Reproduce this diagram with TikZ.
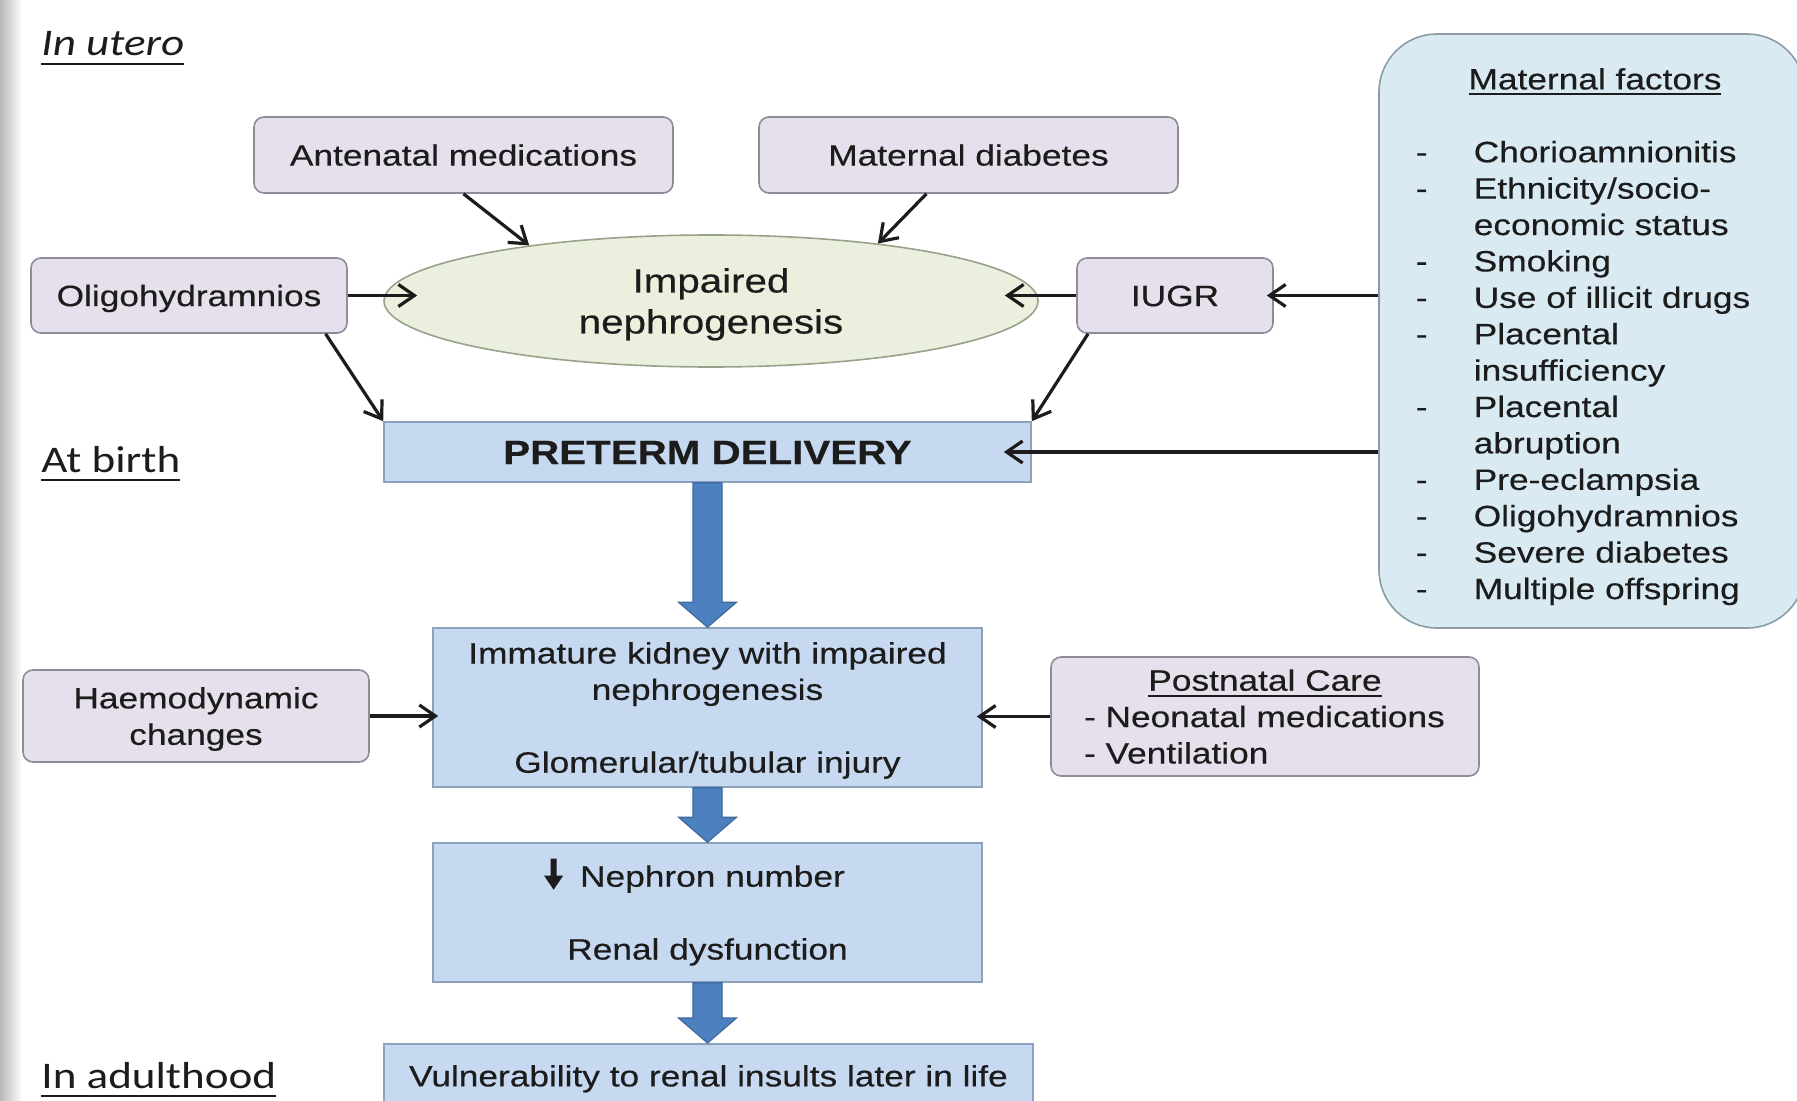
\documentclass[tikz,border=0pt]{standalone}
\usepackage{fontspec}
\setmainfont{Liberation Sans}[FakeStretch=1.2,FakeBold=0.4]
\newfontfamily\calib{Carlito}[FakeStretch=1.2]
\usetikzlibrary{arrows.meta,shapes.geometric,calc}
\definecolor{lav}{HTML}{E5E0EC}
\definecolor{lavb}{HTML}{8E8B9B}
\definecolor{ellf}{HTML}{EAF0DD}
\definecolor{ellb}{HTML}{98A28A}
\definecolor{bluef}{HTML}{C6D9F0}
\definecolor{blueb}{HTML}{8CA2BC}
\definecolor{mff}{HTML}{DAEAF2}
\definecolor{mfb}{HTML}{8C9CA6}
\definecolor{barr}{HTML}{4D80BE}
\definecolor{barrd}{HTML}{3B69A0}
\definecolor{txt}{HTML}{1C1C1C}
\newcommand\fsn{\fontsize{14.7pt}{18.2pt}\selectfont}
\newcommand\fsl{\fontsize{16.8pt}{20.5pt}\selectfont}
\newcommand\fsh{\fontsize{18.8pt}{22pt}\selectfont}
\newcommand\sth{\rule{0pt}{16pt}}
\newcommand\std{\rule[-5.4pt]{0pt}{5.4pt}}
\newcommand\lth{\rule{0pt}{18pt}}
\newcommand\ltd{\rule[-6pt]{0pt}{6pt}}
\newcommand\myul[3]{\setbox0\hbox{#3}\rlap{\vrule height -#1 depth \dimexpr #1+#2\relax width \wd0}\box0}
\newcommand\fatarrow[2]{\path let \p1=(#1.south), \p2=(#2.north) in [fat]
  (\x1-7.25pt,\y1) -- (\x1+7.25pt,\y1) -- (\x1+7.25pt,\y2+12.5pt) -- (\x1+14.5pt,\y2+12.5pt)
  -- (\x1,\y2) -- (\x1-14.5pt,\y2+12.5pt) -- (\x1-7.25pt,\y2+12.5pt) -- cycle;}
\begin{document}
\begin{tikzpicture}[x=0.5pt,y=-0.5pt,
  lbox/.style={draw=lavb, fill=lav, line width=0.8pt, rounded corners=5pt, align=center, inner sep=0pt, font=\fsn, text=txt},
  bbox/.style={draw=blueb, fill=bluef, line width=0.8pt, align=center, inner sep=0pt, font=\fsn, text=txt},
  arr/.style={line width=1.6pt, draw=txt, -{Straight Barb[length=8pt,width=11pt]}},
  fat/.style={fill=barr, draw=barrd, line width=0.6pt},
  lab/.style={anchor=base west, inner sep=0pt, font=\calib\fsh, text=txt}]
\useasboundingbox (0,0) rectangle (1797,1101);
\clip (0,0) rectangle (1797,1101);
\fill[white] (0,0) rectangle (1797,1101);
\shade[left color=black!28, right color=white] (0,0) rectangle (22,1101);

% labels
\node[lab] (lu) at (41,56) {\itshape\myul{3.3pt}{1.2pt}{In utero}};
\node[lab] (lb) at (41,472) {\myul{3.3pt}{1.2pt}{At birth}};
\node[lab] (la) at (41,1088) {\myul{3.3pt}{1.2pt}{In adulthood}};

% in utero
\node[lbox, minimum width=209.5pt, minimum height=38pt] (ant) at (463.5,155) {\sth\std Antenatal medications};
\node[lbox, minimum width=209.5pt, minimum height=38pt] (mdb) at (968.5,155) {\sth\std Maternal diabetes};
\node[lbox, minimum width=158pt, minimum height=37.5pt] (oli) at (189,295.5) {\sth\std Oligohydramnios};
\node[ellipse, draw=ellb, fill=ellf, line width=0.8pt, minimum width=327pt, minimum height=66pt, inner sep=0pt, align=center, font=\fsl, text=txt] (imp) at (711,301) {\lth Impaired\\nephrogenesis\ltd};
\node[lbox, minimum width=98pt, minimum height=37.5pt] (iugr) at (1175,295.5) {\sth\std IUGR};

\node[draw=mfb, fill=mff, line width=0.8pt, rounded corners=29pt, minimum width=213pt, minimum height=297pt, inner sep=0pt, font=\fsn, text=txt] (mf) at (1592,331) {%
\begin{tabular}{@{}p{29pt}@{}l@{}}
\multicolumn{2}{@{}c@{}}{\rule{0pt}{18.7pt}\hspace{12pt}\myul{2pt}{1pt}{Maternal factors}}\\
\\
-&Chorioamnionitis\\
-&Ethnicity/socio-\\
&economic status\\
-&Smoking\\
-&Use of illicit drugs\\
-&Placental\\
&insufficiency\\
-&Placental\\
&abruption\\
-&Pre-eclampsia\\
-&Oligohydramnios\\
-&Severe diabetes\\
-&Multiple offspring
\end{tabular}\rule{9pt}{0pt}};

% at birth
\node[bbox, minimum width=323.5pt, minimum height=30pt, font=\bfseries\fsl] (pre) at (707.5,452) {\lth\ltd PRETERM DELIVERY};
\node[bbox, minimum width=274.5pt, minimum height=79.5pt] (imm) at (707.5,707.5) {\sth Immature kidney with impaired\\nephrogenesis\\[18.2pt]Glomerular/tubular injury\std};
\node[lbox, minimum width=173pt, minimum height=46pt] (hae) at (196,716) {\sth Haemodynamic\\changes\std};
\node[lbox, minimum width=214pt, minimum height=59.5pt, align=left] (pnc) at (1265,716.5) {\makebox[181pt]{\sth\myul{2pt}{1pt}{Postnatal Care}}\\- Neonatal medications\\- Ventilation\std};
\node[bbox, minimum width=274.5pt, minimum height=69.5pt] (nep) at (707.5,912.5) {\sth\tikz[x=1pt,y=1pt,baseline=0pt]\fill[txt] (-1.5,14) -- (1.5,14) -- (1.5,5.5) -- (4.75,5.5) -- (0,-1.5) -- (-4.75,5.5) -- (-1.5,5.5) -- cycle;\hspace{8.5pt}Nephron number\hspace*{13pt}\\[18.2pt]Renal dysfunction\std};
\node[bbox, anchor=north, minimum width=324.5pt, minimum height=32pt] (vul) at (708.5,1043) {\sth\std Vulnerability to renal insults later in life};

% connectors
\draw[arr, shorten >=-17pt] (oli.east) -- (oli.east -| imp.west);
\draw[arr, shorten >=-17pt] (iugr.west) -- (iugr.west -| imp.east);
\draw[arr] (ant.south) -- (imp.163);
\draw[arr] ($(mdb.south west)!0.4!(mdb.south east)$) -- (imp.19);
\draw[arr, shorten >=-3.5pt] (mf.west |- iugr.east) -- (iugr.east);
\draw[arr, shorten >=-14pt] (mf.west |- pre.east) -- (pre.east);
\draw[arr] ($(oli.south west)!0.93!(oli.south east)$) -- (pre.north west);
\draw[arr] ($(iugr.south west)!0.06!(iugr.south east)$) -- (pre.north east);
\draw[arr, shorten >=-3pt] (hae.east) -- (hae.east -| imm.west);
\draw[arr, shorten >=-3pt] (pnc.west) -- (pnc.west -| imm.east);
\fatarrow{pre}{imm}
\fatarrow{imm}{nep}
\fatarrow{nep}{vul}
\end{tikzpicture}
\end{document}
